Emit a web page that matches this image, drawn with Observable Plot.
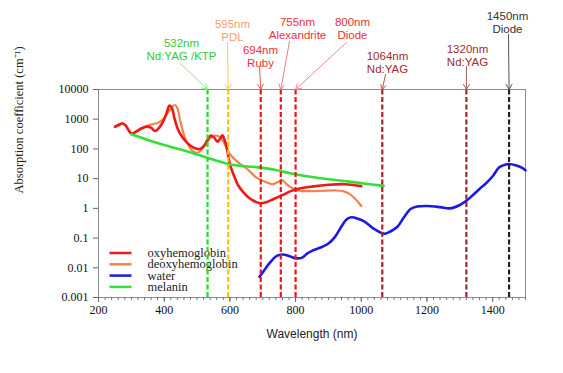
<!DOCTYPE html>
<html><head><meta charset="utf-8">
<script src="https://cdn.jsdelivr.net/npm/d3@7"></script>
<script src="https://cdn.jsdelivr.net/npm/@observablehq/plot@0.6"></script>
<style>body{margin:0;background:#fff;} #chart svg{display:block}</style>
</head><body><div id="chart"></div>
<script>
// ---------- data ----------
const oxyWl  = [250,262,272,282,292,300,315,330,345,360,372,385,398,408,416,424,432,442,455,470,490,510,522,532,542,552,562,570,577,584,592,600,612,625,640,655,672,690,710,735,760,785,810,850,900,950,1000];
const oxyVal = [560,650,720,620,420,330,380,480,560,520,400,520,900,1700,2900,2300,1000,450,250,160,110,100,130,200,280,240,175,220,290,200,90,30,13,6,3.6,2.4,1.8,1.5,1.6,2.1,2.8,3.8,4.6,5.4,6.2,6.5,5.6];

const deoxyWl  = [250,262,272,282,292,300,312,325,340,355,370,385,400,412,424,433,440,448,458,470,482,495,508,520,533,545,555,565,575,585,597,610,630,655,680,705,730,750,759,770,785,805,840,880,920,945,965,985,1000];
const deoxyVal = [540,620,740,650,430,320,380,470,560,640,700,800,1100,1700,2600,3000,2400,1000,350,160,95,75,80,120,190,250,280,270,220,140,75,50,32,20,11,8,6.5,8,9,7,5.2,4,3.8,3.9,4,3.8,3,1.9,1.2];

const waterWl  = [690,700,720,740,750,760,780,800,820,835,850,880,900,920,940,955,970,990,1010,1040,1070,1090,1110,1130,1150,1170,1200,1240,1270,1300,1320,1340,1360,1380,1400,1420,1440,1450,1470,1490,1500];
const waterVal = [0.005,0.007,0.014,0.024,0.027,0.028,0.025,0.021,0.022,0.03,0.037,0.05,0.066,0.11,0.25,0.42,0.5,0.45,0.36,0.2,0.14,0.17,0.24,0.5,0.95,1.15,1.2,1.1,1.0,1.3,1.8,2.8,4.5,7,12,24,30,31,28,23,19];

const melaninWl  = [300,350,400,450,500,532,560,595,630,670,700,740,780,820,870,920,970,1020,1068];
const melaninVal = [310,200,135,95,65,50,40,31,27,25,23,19.5,15.5,12.8,10.5,9,7.8,6.6,5.7];

const seriesNames = ["oxyhemoglobin","deoxyhemoglobin","water","melanin"];

const laserWl    = [532,595,694,755,800,1064,1320,1450];
const laserLine1 = ["532nm","595nm","694nm","755nm","800nm","1064nm","1320nm","1450nm"];
const laserLine2 = ["Nd:YAG /KTP","PDL","Ruby","Alexandrite","Diode","Nd:YAG","Nd:YAG","Diode"];

const xTicks = [200,400,600,800,1000,1200,1400];
const yTicks = [0.001,0.01,0.1,1,10,100,1000,10000];
const yTickLabels = ["0.001","0.01","0.1","1","10","100","1000","10000"];
const xTitle = "Wavelength (nm)";
const yTitle = "Absorption coefficient (cm\u207B\u00B9)";

// ---------- styles / layout ----------
const seriesColor = ["#ee1a1a","#f5844a","#1a1ae0","#33e033"];
const laserLineColor  = ["#22dd22","#ffc000","#ee1515","#ee1515","#ee1515","#b02030","#9a2a38","#222222"];
const laserTextColor  = ["#33c933","#f4a070","#ee3030","#ee3030","#ee3030","#a52a2a","#a02c2c","#333333"];
const laserArrowColor = ["#90e090","#f5c870","#e06060","#e88080","#f08a8a","#b05555","#a06060","#555555"];
// label centre (px) and arrow start (px)
const labelX = [181,232,260,297,352,387,467,507];
const labelY = [48.5,29.5,55.5,27.5,28,62,54.5,21.5];
const arrowX0 = [180,227,259,289,346,385,466,508];
const arrowY0 = [63,42,67,41,42,74,66,34];

const serif = "'Liberation Serif','Times New Roman',serif";
const sans = "'Liberation Sans',Arial,sans-serif";

const W=563,H=373,mL=98,mR=38,mT=89,mB=76;
const xDomain=[200,1500], yDomain=[0.001,10000];
const xInv = px => xDomain[0] + (px-mL)*(xDomain[1]-xDomain[0])/(W-mL-mR);
const yInv = py => { const lo=Math.log10(yDomain[0]), hi=Math.log10(yDomain[1]); return 10**(hi - (py-mT)*(hi-lo)/(H-mT-mB)); };

const seriesData = [[oxyWl,oxyVal],[deoxyWl,deoxyVal],[waterWl,waterVal],[melaninWl,melaninVal]]
  .map(([w,v],k)=>w.map((x,i)=>({wl:x, v:v[i], name:seriesNames[k]})));

const lasers = laserWl.map((wl,i)=>({wl, text: laserLine1[i]+"\n"+laserLine2[i],
  lc: laserLineColor[i], tc: laserTextColor[i], ac: laserArrowColor[i],
  tx: xInv(labelX[i]), ty: yInv(labelY[i]), ax: xInv(arrowX0[i]), ay: yInv(arrowY0[i])}));

const legendY = [252.5,263.8,275.1,286.4];
const legend = seriesNames.map((n,i)=>({name:n, color:seriesColor[i], y: yInv(legendY[i])}));

const minorTicks = d3.range(200,1501,20);
const drawOrder = [1,0,3,2];

const chart = Plot.plot({
  width:W, height:H, marginLeft:mL, marginRight:mR, marginTop:mT, marginBottom:mB,
  style:{background:"white", color:"black", overflow:"visible"},
  x:{domain:xDomain},
  y:{type:"log", domain:yDomain},
  color:{type:"identity"},
  marks:[
    Plot.frame({stroke:"#8c8c8c"}),
    Plot.axisY({ticks:yTicks, tickFormat:d=>yTickLabels[yTicks.indexOf(d)], tickSize:5, tickPadding:5,
      fontSize:12, fontFamily:serif, label:null, stroke:"#666", fill:"#111"}),
    Plot.axisX({ticks:minorTicks, tickSize:3, tickFormat:()=>"", label:null, stroke:"#777"}),
    Plot.axisX({ticks:xTicks, tickSize:5, tickPadding:3, tickFormat:d=>String(d), fontSize:12, fontFamily:serif,
      label:null, stroke:"#666", fill:"#111"}),
    Plot.text([yTitle], {text:d=>d, frameAnchor:"left", rotate:-90, dx:-80, fontFamily:serif, fontSize:12.5, fill:"#222"}),
    Plot.text([xTitle], {text:d=>d, frameAnchor:"bottom", dy:40, fontFamily:sans, fontSize:12, fill:"#222"}),
    // legend
    Plot.link(legend, {x1:()=>xInv(109), x2:()=>xInv(131), y1:"y", y2:"y", stroke:"color", strokeWidth:2.5}),
    Plot.text(legend, {x:()=>xInv(147), y:"y", text:"name", textAnchor:"start", fontFamily:serif, fontSize:12.5, fill:"#222"}),
    // curves
    ...drawOrder.map(k=>Plot.line(seriesData[k], {x:"wl", y:"v", stroke:seriesColor[k], strokeWidth:k===1?2.2:2.6, curve:"catmull-rom"})),
    // laser lines
    Plot.ruleX(lasers, {x:"wl", y1:yDomain[0], y2:yDomain[1], stroke:"lc", strokeWidth:2.2, strokeDasharray:"5,2.5"}),
    Plot.arrow(lasers, {x1:"ax", y1:"ay", x2:"wl", y2:yDomain[1], stroke:"ac", strokeWidth:1, headLength:9, headAngle:60}),
    Plot.text(lasers, {x:"tx", y:"ty", text:"text", fill:"tc", fontFamily:sans, fontSize:11.5, lineHeight:1.15, lineAnchor:"middle"})
  ]
});
document.getElementById("chart").append(chart);
</script>
</body></html>
